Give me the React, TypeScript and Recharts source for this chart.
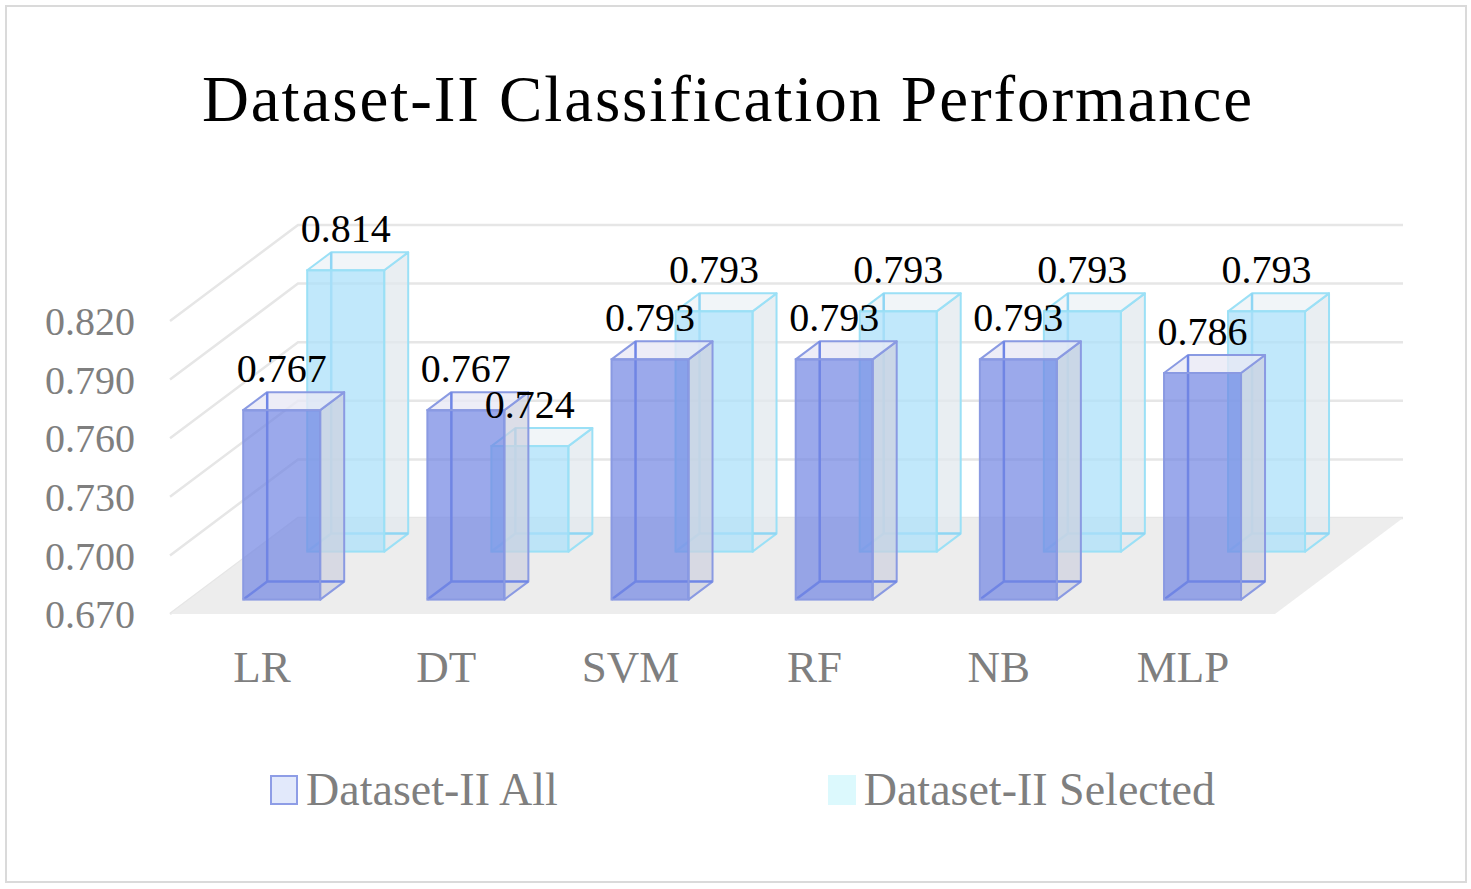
import React from "react";
import {
  Bar,
  BarChart,
  CartesianGrid,
  LabelList,
  Legend,
  ReferenceArea,
  XAxis,
  YAxis,
} from "recharts";

const categories = ["LR", "DT", "SVM", "RF", "NB", "MLP"];
const allScores = [0.767, 0.767, 0.793, 0.793, 0.793, 0.786];
const selectedScores = [0.814, 0.724, 0.793, 0.793, 0.793, 0.793];
const yTicks = [0.67, 0.7, 0.73, 0.76, 0.79, 0.82];
const seriesNames = ["Dataset-II All", "Dataset-II Selected"];

const data = categories.map((name, i) => ({
  name,
  all: allScores[i],
  selected: selectedScores[i],
}));

// oblique projection of the floor depth, and of one bar's depth
const FLOOR_DX = 128;
const FLOOR_DY = -96;
const BAR_DX = 24;
const BAR_DY = -18;
const FONT = "'Liberation Serif', 'Times New Roman', serif";

const tones = {
  all: {
    front: "rgba(112, 132, 226, 0.7)",
    edge: "#8a9ae2",
    inner: "#6f86e6",
    side: "rgba(205, 208, 222, 0.7)",
    top: "rgba(232, 233, 245, 0.8)",
    depth: 0.15,
  },
  selected: {
    front: "rgba(172, 224, 250, 0.75)",
    edge: "#9be0f6",
    inner: "#8fd6f4",
    side: "rgba(226, 232, 238, 0.75)",
    top: "rgba(238, 243, 247, 0.85)",
    depth: 0.65,
  },
};

type Tone = keyof typeof tones;

function Cuboid(props: any) {
  const { x, y, width, height, tone } = props as { x: number; y: number; width: number; height: number; tone: Tone };
  const t = tones[tone];
  const x0 = x + FLOOR_DX * t.depth;
  const y0 = y + FLOOR_DY * t.depth;
  const x1 = x0 + width;
  const yb = y0 + height;
  const pts = (a: number[][]) => a.map((p) => p.join(",")).join(" ");
  return (
    <g>
      <polygon
        points={pts([[x1, y0], [x1 + BAR_DX, y0 + BAR_DY], [x1 + BAR_DX, yb + BAR_DY], [x1, yb]])}
        fill={t.side}
        stroke={t.edge}
        strokeWidth={2}
        strokeLinejoin="round"
      />
      <polygon
        points={pts([[x0, y0], [x0 + BAR_DX, y0 + BAR_DY], [x1 + BAR_DX, y0 + BAR_DY], [x1, y0]])}
        fill={t.top}
        stroke={t.edge}
        strokeWidth={2}
        strokeLinejoin="round"
      />
      <path
        d={`M${x0 + BAR_DX},${y0 + BAR_DY}L${x0 + BAR_DX},${yb + BAR_DY}L${x1 + BAR_DX},${yb + BAR_DY}M${x0},${yb}L${x0 + BAR_DX},${yb + BAR_DY}`}
        stroke={t.inner}
        strokeWidth={2.5}
        fill="none"
      />
      <rect x={x0} y={y0} width={width} height={height} fill={t.front} stroke={t.edge} strokeWidth={2} />
    </g>
  );
}

const makeLabel = (tone: Tone) => (p: any) => {
  const t = tones[tone];
  const cx = p.x + FLOOR_DX * t.depth + p.width / 2;
  const base = p.y + FLOOR_DY * t.depth + BAR_DY - 10;
  return (
    <text x={cx} y={base} textAnchor="middle" fontSize={40} fontFamily={FONT} fill="#000">
      {Number(p.value).toFixed(3)}
    </text>
  );
};

const gridLine = (p: any) => {
  const { x1, y1, x2 } = p;
  return (
    <path
      key={p.key ?? `grid-${y1}`}
      d={`M${x1},${y1}L${x1 + FLOOR_DX},${y1 + FLOOR_DY}L${x2 + FLOOR_DX},${y1 + FLOOR_DY}`}
      stroke="#e6e6e6"
      strokeWidth={2.5}
      fill="none"
    />
  );
};

const Floor = (p: any) => {
  const { x, y, width, height } = p;
  const yb = y + height;
  return (
    <polygon
      points={`${x},${yb} ${x + width},${yb} ${x + width + FLOOR_DX},${yb + FLOOR_DY} ${x + FLOOR_DX},${yb + FLOOR_DY}`}
      fill="#ededed"
    />
  );
};

const legendSwatches = [
  { fill: "#e2e9fb", stroke: "#8e9de6" },
  { fill: "#dcf9fd", stroke: "#dcf9fd" },
];

const renderLegend = () => (
  <div style={{ display: "flex", justifyContent: "center", gap: 270, paddingLeft: 14, fontFamily: FONT }}>
    {seriesNames.map((name, i) => (
      <div key={name} style={{ display: "flex", alignItems: "center", gap: 8 }}>
        <span
          style={{
            display: "inline-block",
            width: 24,
            height: 26,
            background: legendSwatches[i].fill,
            border: `2px solid ${legendSwatches[i].stroke}`,
          }}
        />
        <span style={{ fontSize: 46, color: "#7f7f7f", lineHeight: "50px" }}>{name}</span>
      </div>
    ))}
  </div>
);

export default function App() {
  return (
    <div style={{ position: "absolute", left: 0, top: 0, width: 1471, height: 889, background: "#fff", fontFamily: FONT }}>
      <div
        style={{
          position: "absolute",
          left: 5,
          top: 5,
          width: 1458,
          height: 874,
          border: "2.5px solid #dadada",
        }}
      />
      <div
        style={{
          position: "absolute",
          left: 0,
          top: 67,
          width: 1456,
          textAlign: "center",
          fontSize: 65,
          lineHeight: "64px",
          letterSpacing: 1.9,
          color: "#000",
        }}
      >
        Dataset-II Classification Performance
      </div>
      <div style={{ position: "absolute", left: 0, top: 0 }}>
        <BarChart
          width={1471}
          height={889}
          data={data}
          margin={{ top: 321, right: 196, left: 50, bottom: 175 }}
        >
          <ReferenceArea y1={0.67} y2={0.7} shape={<Floor />} ifOverflow="visible" />
          <CartesianGrid vertical={false} horizontal={gridLine} />
          <XAxis
            xAxisId="front"
            dataKey="name"
            axisLine={false}
            tickLine={false}
            height={100}
            tickMargin={0}
            tick={{ fill: "#7f7f7f", fontSize: 45, fontFamily: FONT }}
          />
          <XAxis xAxisId="back" dataKey="name" hide />
          <YAxis
            domain={[0.67, 0.82]}
            ticks={yTicks}
            width={120}
            axisLine={false}
            tickLine={false}
            tickMargin={29}
            tickFormatter={(v: number) => v.toFixed(3)}
            tick={{ fill: "#7f7f7f", fontSize: 40, fontFamily: FONT }}
          />
          <Bar
            name={seriesNames[1]}
            dataKey="selected"
            xAxisId="back"
            barSize={77}
            isAnimationActive={false}
            shape={(p: any) => <Cuboid {...p} tone="selected" />}
          >
            <LabelList dataKey="selected" content={makeLabel("selected")} />
          </Bar>
          <Bar
            name={seriesNames[0]}
            dataKey="all"
            xAxisId="front"
            barSize={77}
            isAnimationActive={false}
            shape={(p: any) => <Cuboid {...p} tone="all" />}
          >
            <LabelList dataKey="all" content={makeLabel("all")} />
          </Bar>
          <Legend
            verticalAlign="middle"
            align="center"
            content={renderLegend}
            wrapperStyle={{ top: 765, left: 0, width: 1471 }}
          />
        </BarChart>
      </div>
    </div>
  );
}
